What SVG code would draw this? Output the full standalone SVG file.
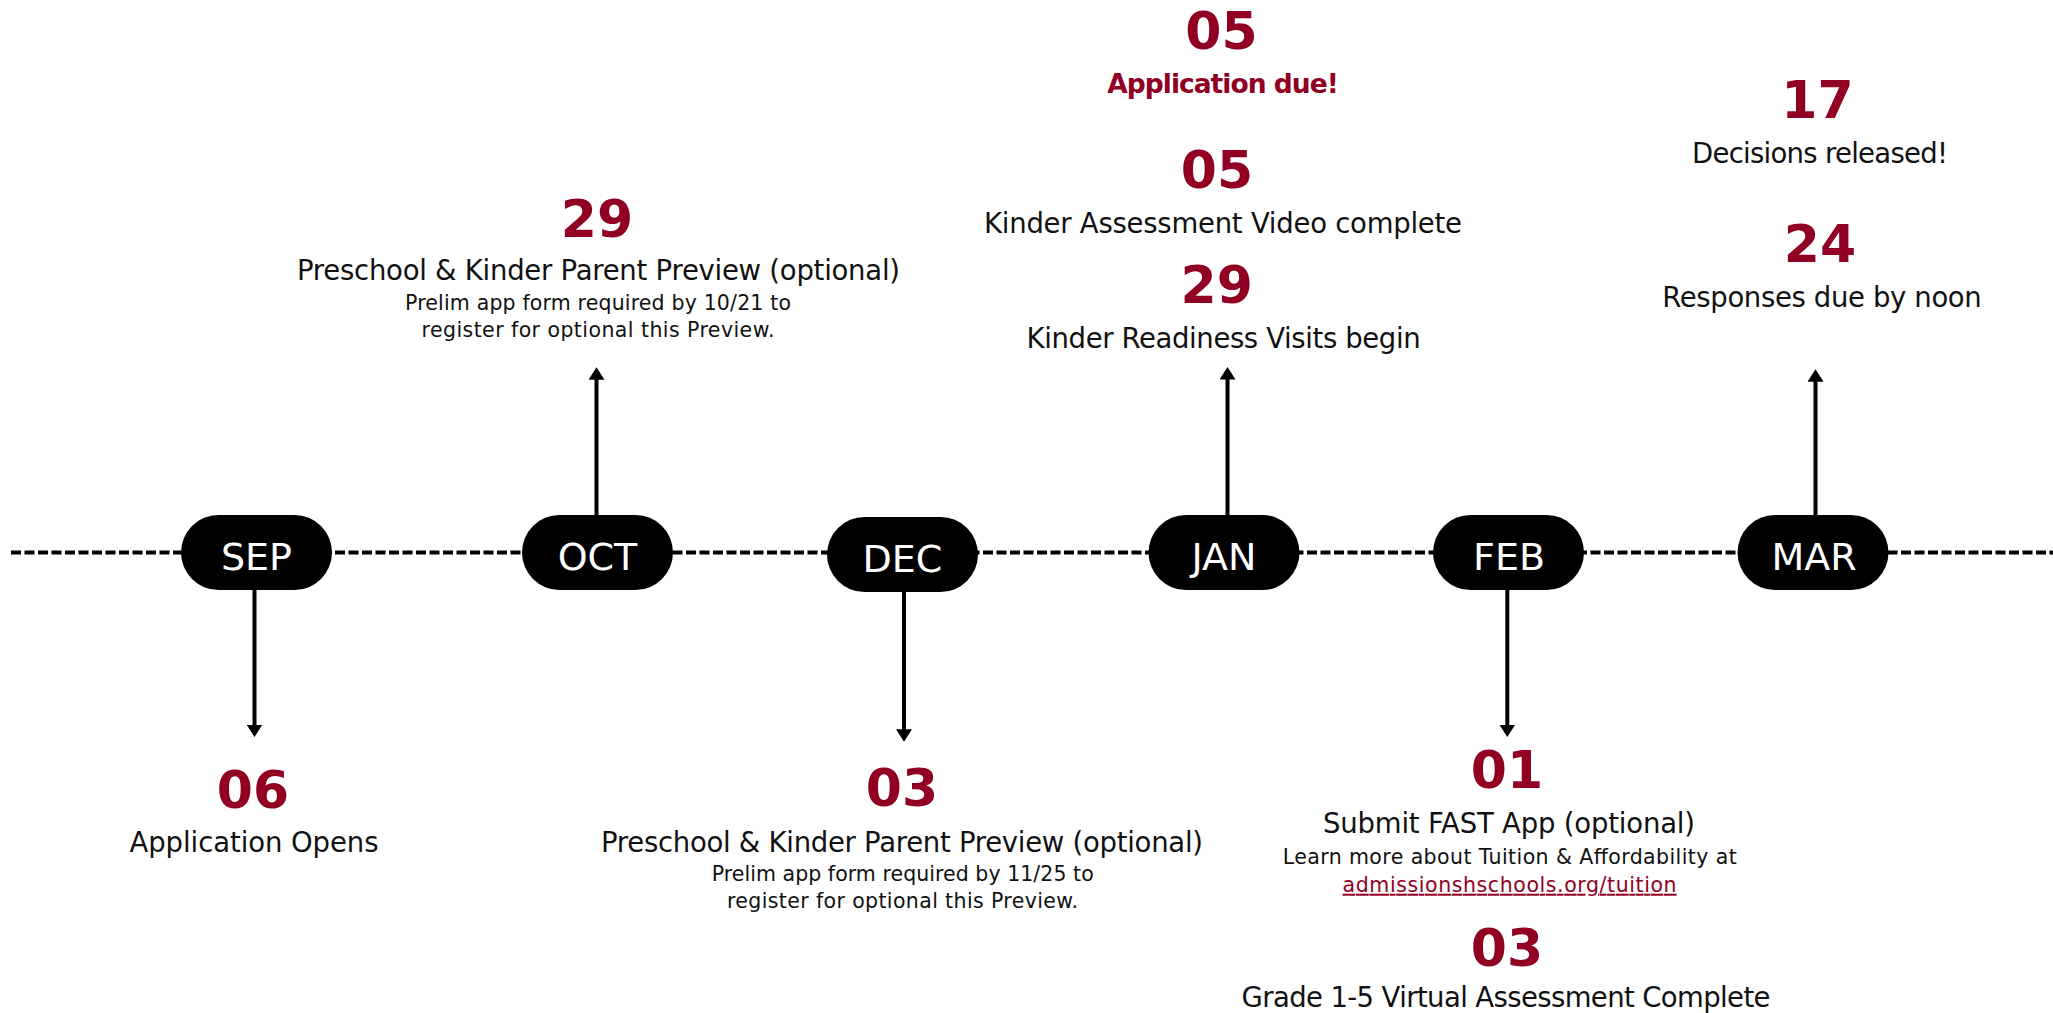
<svg xmlns="http://www.w3.org/2000/svg" width="2053" height="1013" viewBox="0 0 2053 1013">
<style>
.bg{fill:#ffffff}
.pill{fill:#000000}
.mon{font-family:"DejaVu Sans","Liberation Sans",sans-serif;font-size:38px;fill:#ffffff;text-anchor:middle}
.num{font-family:"DejaVu Sans","Liberation Sans",sans-serif;font-weight:bold;font-size:52px;fill:#910023;text-anchor:middle}
.lbl{font-family:"DejaVu Sans","Liberation Sans",sans-serif;font-size:27.5px;fill:#111111;text-anchor:middle}
.lblb{font-family:"DejaVu Sans","Liberation Sans",sans-serif;font-weight:bold;font-size:26.5px;fill:#910023;text-anchor:middle}
.sub{font-family:"DejaVu Sans","Liberation Sans",sans-serif;font-size:20.5px;fill:#111111;text-anchor:middle}
.link{font-family:"DejaVu Sans","Liberation Sans",sans-serif;font-size:20.5px;fill:#910023;text-anchor:middle;text-decoration:underline}
.axis{stroke:#000000;stroke-width:4;stroke-dasharray:10 3.5;fill:none}
.conn{stroke:#000000;stroke-width:4;fill:none;marker-end:url(#ah)}
</style>
<defs>
<marker id="ah" markerUnits="userSpaceOnUse" viewBox="0 0 12.5 16" markerWidth="12.5" markerHeight="16" refX="2.5" refY="8" orient="auto">
<path d="M0,0 L12.5,8 L0,16 Z" fill="#000000"/>
</marker>
</defs>
<rect class="bg" x="0" y="0" width="2053" height="1013"/>
<g id="connectors">
<line class="axis" x1="11" y1="552.5" x2="2053" y2="552.5"/>
<line class="conn" x1="254.5" y1="589" x2="254.5" y2="727"/>
<line class="conn" x1="596.5" y1="516" x2="596.5" y2="377.3"/>
<line class="conn" x1="904" y1="591" x2="904" y2="731.7"/>
<line class="conn" x1="1227.5" y1="516" x2="1227.5" y2="377"/>
<line class="conn" x1="1507.3" y1="589" x2="1507.3" y2="727"/>
<line class="conn" x1="1815.5" y1="516" x2="1815.5" y2="379.3"/>
</g>
<g id="sep">
<rect class="pill" x="181" y="515" width="151" height="75" rx="37.5"/>
<text class="mon" x="256.5" y="569.5">SEP</text>
<text class="num" x="253" y="807.5">06</text>
<text class="lbl" x="254" y="852.3" textLength="249">Application Opens</text>
</g>
<g id="oct">
<rect class="pill" x="522" y="515" width="151" height="75" rx="37.5"/>
<text class="mon" x="597.5" y="569.5">OCT</text>
<text class="num" x="597" y="237">29</text>
<text class="lbl" x="598.5" y="280" textLength="603">Preschool &amp; Kinder Parent Preview (optional)</text>
<text class="sub" x="598" y="309.5" textLength="386">Prelim app form required by 10/21 to</text>
<text class="sub" x="598" y="337" textLength="353">register for optional this Preview.</text>
</g>
<g id="dec">
<rect class="pill" x="827" y="517" width="151" height="75" rx="37.5"/>
<text class="mon" x="902.5" y="571.7">DEC</text>
<text class="num" x="902" y="806">03</text>
<text class="lbl" x="902" y="851.7" textLength="602">Preschool &amp; Kinder Parent Preview (optional)</text>
<text class="sub" x="902.7" y="880.7" textLength="382">Prelim app form required by 11/25 to</text>
<text class="sub" x="902.5" y="908.3" textLength="351">register for optional this Preview.</text>
</g>
<g id="jan">
<rect class="pill" x="1148.5" y="515" width="151" height="75" rx="37.5"/>
<text class="mon" x="1224" y="569.5">JAN</text>
<text class="num" x="1221.5" y="49.3">05</text>
<text class="lblb" x="1223" y="92.7" textLength="231.5">Application due!</text>
<text class="num" x="1217" y="188.3">05</text>
<text class="lbl" x="1223" y="233.3" textLength="478">Kinder Assessment Video complete</text>
<text class="num" x="1216.7" y="303.3">29</text>
<text class="lbl" x="1223.6" y="348.3" textLength="394">Kinder Readiness Visits begin</text>
</g>
<g id="feb">
<rect class="pill" x="1433" y="515" width="151" height="75" rx="37.5"/>
<text class="mon" x="1509" y="569.5">FEB</text>
<text class="num" x="1507" y="788.3">01</text>
<text class="lbl" x="1509" y="833.3" textLength="372">Submit FAST App (optional)</text>
<text class="sub" x="1509.7" y="864" textLength="454">Learn more about Tuition &amp; Affordability at</text>
<text class="link" x="1509.6" y="891.7" textLength="334">admissionshschools.org/tuition</text>
<text class="num" x="1507" y="966">03</text>
<text class="lbl" x="1506" y="1007.3" textLength="529">Grade 1-5 Virtual Assessment Complete</text>
</g>
<g id="mar">
<rect class="pill" x="1737.5" y="515" width="151" height="75" rx="37.5"/>
<text class="mon" x="1814" y="569.5">MAR</text>
<text class="num" x="1817.5" y="118.3">17</text>
<text class="lbl" x="1820" y="163.3" textLength="256">Decisions released!</text>
<text class="num" x="1820" y="262.3">24</text>
<text class="lbl" x="1822" y="307.3" textLength="319.5">Responses due by noon</text>
</g>
</svg>
